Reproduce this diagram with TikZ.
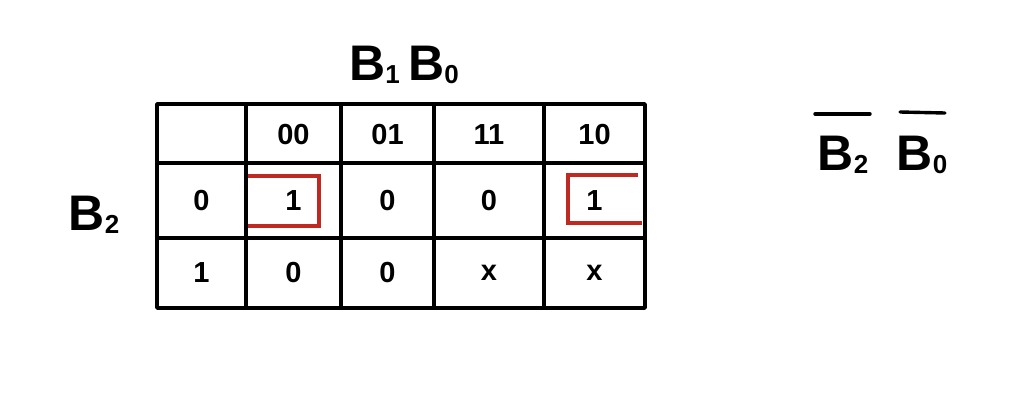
\documentclass[tikz,border=0pt]{standalone}
\usepackage{fontspec}
\setmainfont{Liberation Sans}
\definecolor{kred}{RGB}{192,40,34}
\newcommand{\lsub}[1]{\raisebox{-3pt}{\fontsize{26}{26}\selectfont #1}}
\begin{document}
\begin{tikzpicture}[x=1pt,y=-1pt,
  grid/.style={line width=3.6pt,line cap=round,line join=round},
  box/.style={draw=kred,line width=3.2pt,line join=miter},
  cell/.style={font=\bfseries\fontsize{29}{29}\selectfont,inner sep=0pt},
  lab/.style={font=\bfseries\fontsize{50}{50}\selectfont,inner sep=0pt},
  bar/.style={line width=3.4pt,line cap=round}]
\useasboundingbox (0,0) rectangle (1012,410);
% grid
\draw[grid] (157,104) rectangle (645,308);
\foreach \x in {246,341,434,544} \draw[grid] (\x,104) -- (\x,308);
\foreach \y in {163,238} \draw[grid] (157,\y) -- (645,\y);
% header
\node[cell] (h00) at (293.5,135) {00};
\node[cell] (h01) at (387.5,135) {01};
\node[cell] (h11) at (489,135) {11};
\node[cell] (h10) at (594.5,135) {10};
\node[cell] (r0) at (201.5,201) {0};
\node[cell] (r1) at (201.5,273) {1};
% row 0
\node[cell] (c00) at (293.5,201) {1};
\node[cell] (c01) at (387.5,201) {0};
\node[cell] (c11) at (489,201) {0};
\node[cell] (c10) at (594.5,201) {1};
% row 1
\node[cell] (d00) at (293.5,273) {0};
\node[cell] (d01) at (387.5,273) {0};
\node[cell] (d11) at (489,273) {x};
\node[cell] (d10) at (594.5,273) {x};
% red groups
\draw[box] (248,176) -- (319,176) -- (319,226) -- (248,226);
\draw[box] (638,175) -- (568,175) -- (568,223) -- (642,223);
% labels
\node[lab,anchor=base] (top) at (404,80) {B\lsub{1}\,B\lsub{0}};
\node[lab,anchor=base] (side) at (94,230) {B\lsub{2}};
\node[lab,anchor=base] (res2) at (843,170) {B\lsub{2}};
\node[lab,anchor=base] (res0) at (922,170) {B\lsub{0}};
\draw[bar] (815,114) -- (870,114);
\draw[bar] (900,112) -- (945,113);
\end{tikzpicture}
\end{document}
